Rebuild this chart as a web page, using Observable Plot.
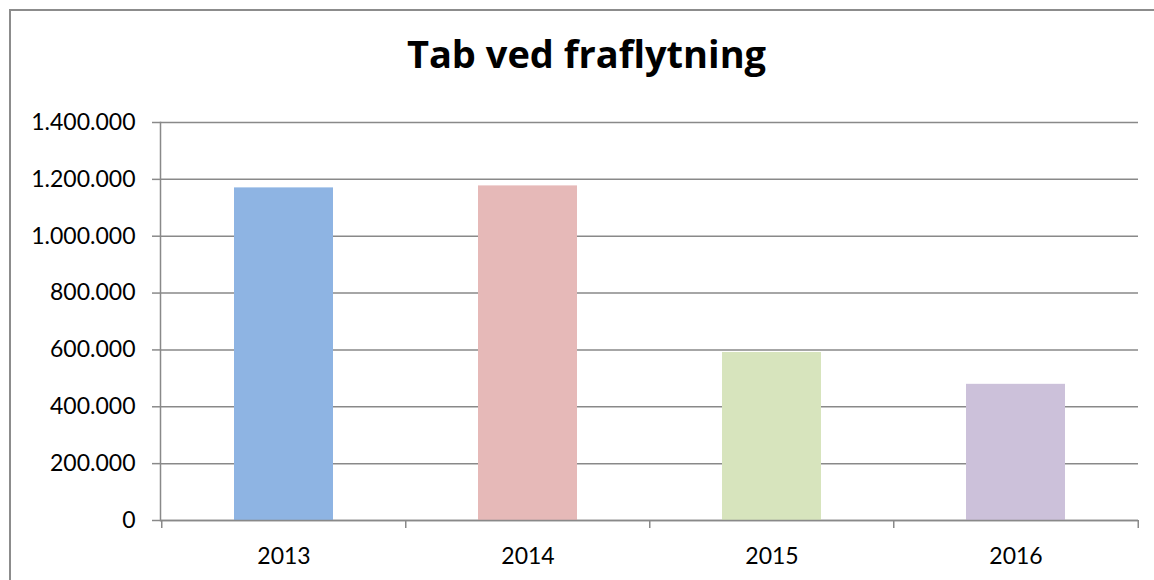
<!DOCTYPE html>
<html>
<head>
<meta charset="utf-8">
<script src="https://cdn.jsdelivr.net/npm/d3@7"></script>
<script src="https://cdn.jsdelivr.net/npm/@observablehq/plot@0.6"></script>
<style>
  html, body { margin: 0; padding: 0; background: #fff; }
  #chart { position: relative; width: 1154px; height: 580px; overflow: hidden; font-family: Lato, "Open Sans", sans-serif; }
  #frame { position: absolute; left: 9px; top: 9px; width: 1200px; height: 620px; border-left: 2px solid #8c8c8c; border-top: 2px solid #8c8c8c; }
  #title { position: absolute; left: 10px; width: 1153px; top: 34px; font-family: "Open Sans", sans-serif; font-size: 38px; line-height: 38px; font-weight: bold; text-align: center; color: #000; }
  #plot { position: absolute; left: 0; top: 100px; }
</style>
</head>
<body>
<div id="chart">
  <div id="frame"></div>
  <div id="title">Tab ved fraflytning</div>
  <div id="plot"></div>
</div>
<script>
const years = ["2013", "2014", "2015", "2016"];
const values = [1170000, 1177000, 591000, 479000];
const barColors = ["#8eb4e3", "#e6b9b8", "#d7e4bd", "#ccc1da"];
const yTicks = [0, 200000, 400000, 600000, 800000, 1000000, 1200000, 1400000];

const data = years.map((year, i) => ({year, value: values[i]}));
const locale = d3.formatLocale({decimal: ",", thousands: ".", grouping: [3], currency: ["", " kr."]});
const fmt = locale.format(",d");
const gray = "#898989";

const W = 1154, mL = 160, mR = 16;
const step = (W - mL - mR) / years.length;

const chart = Plot.plot({
  width: W,
  height: 480,
  marginTop: 22,
  marginBottom: 60,
  marginLeft: mL,
  marginRight: mR,
  style: {fontFamily: "Lato, 'Open Sans', sans-serif", fontSize: "23px", background: "transparent", color: "#000"},
  x: {type: "band", domain: years, paddingInner: 0.595, paddingOuter: 0.2975, axis: null},
  y: {domain: [0, 1400000], axis: null},
  color: {domain: years, range: barColors},
  marks: [
    Plot.gridY(yTicks, {stroke: gray, strokeOpacity: 1, strokeWidth: 1.5}),
    Plot.barY(data, {x: "year", y: "value", fill: "year"}),
    Plot.ruleY([0], {stroke: gray, strokeWidth: 1.5}),
    Plot.frame({anchor: "left", stroke: gray, strokeWidth: 1.5}),
    Plot.axisY({ticks: yTicks, tickFormat: fmt, tickSize: 8, tickPadding: 17, stroke: gray, strokeWidth: 1.5, fill: "#000", fontSize: 23, label: null}),
    Plot.axisX({tickSize: 0, tickPadding: 27, fill: "#000", fontSize: 23, label: null}),
    Plot.axisX({tickSize: 8, tickFormat: () => "", stroke: gray, strokeWidth: 1.5, dx: -step / 2, label: null}),
    Plot.axisX({ticks: [years[years.length - 1]], tickSize: 8, tickFormat: () => "", stroke: gray, strokeWidth: 1.5, dx: step / 2, label: null})
  ]
});
document.getElementById("plot").appendChild(chart);
</script>
</body>
</html>
